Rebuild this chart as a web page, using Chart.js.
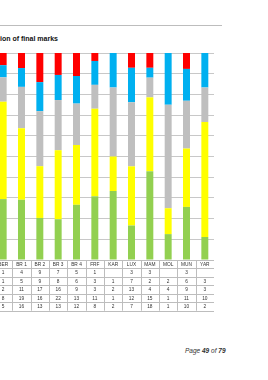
<!DOCTYPE html>
<html>
<head>
<meta charset="utf-8">
<script src="https://cdn.jsdelivr.net/npm/chart.js@4"></script>
<style>
html,body{margin:0;padding:0;background:#fff;width:268px;height:380px;overflow:hidden;position:relative;font-family:"Liberation Sans",Arial,sans-serif;}
#rule{position:absolute;left:0;top:25px;width:222px;height:0;border-top:1px solid #bdbdbd;}
#title{position:absolute;left:0;top:35px;font-size:7px;font-weight:bold;color:#111;white-space:nowrap;}
#wrap{position:absolute;left:-6px;top:50px;width:220px;height:264px;}
#footer{position:absolute;left:185px;top:347px;font-size:6.5px;font-style:italic;color:#333;white-space:nowrap;}
</style>
</head>
<body>
<div id="rule"></div>
<div id="title">ion of final marks</div>
<div id="wrap"><canvas id="c" width="220" height="264"></canvas></div>
<div id="footer">Page <b>49</b> of <b>79</b></div>
<script>
const categories = ['BER','BR 1','BR 2','BR 3','BR 4','FRF','KAR','LUX','MAM','MOL','MUN','YAR'];
const redMarks    = [1, 4, 9, 7, 5, 1, null, 3, 3, null, 3, null];
const blueMarks   = [1, 5, 9, 8, 6, 3, 1, 7, 2, 2, 6, 3];
const greyMarks   = [2, 11, 17, 16, 9, 3, 2, 13, 4, 4, 9, 3];
const yellowMarks = [8, 19, 16, 22, 13, 11, 1, 12, 15, 1, 11, 10];
const greenMarks  = [5, 16, 13, 13, 12, 8, 2, 7, 18, 1, 10, 2];
const yTicks = [0,10,20,30,40,50,60,70,80,90,100];

const series = [
  {data: redMarks, color: '#ff0000'},
  {data: blueMarks, color: '#00b0f0'},
  {data: greyMarks, color: '#bfbfbf'},
  {data: yellowMarks, color: '#ffff00'},
  {data: greenMarks, color: '#92d050'}
];
const totals = categories.map((_, i) => series.reduce((s, d) => s + (d.data[i] || 0), 0));
const datasets = series.slice().reverse().map(s => ({
  data: s.data.map((v, i) => (v || 0) / totals[i] * 100),
  backgroundColor: s.color,
  borderWidth: 0,
  barPercentage: 0.38,
  categoryPercentage: 1.0
}));

const tablePlugin = {
  id: 'dataTable',
  afterDraw(chart) {
    const ctx = chart.ctx, xs = chart.scales.x, area = chart.chartArea;
    const rowH = 8.45;
    const top = area.bottom;
    const n = categories.length;
    const step = (area.right - area.left) / n;
    ctx.save();
    ctx.strokeStyle = '#bdbdbd';
    ctx.lineWidth = 1;
    for (let r = 0; r <= series.length + 1; r++) {
      const y = Math.round(top + r * rowH) + 0.5;
      ctx.beginPath(); ctx.moveTo(area.left, y); ctx.lineTo(area.right, y); ctx.stroke();
    }
    for (let k = 0; k <= n; k++) {
      const x = Math.round(area.left + k * step) + 0.5;
      ctx.beginPath(); ctx.moveTo(x, top); ctx.lineTo(x, top + (series.length + 1) * rowH); ctx.stroke();
    }
    ctx.fillStyle = '#333';
    ctx.font = '4.8px "Liberation Sans", Arial, sans-serif';
    ctx.textAlign = 'center';
    ctx.textBaseline = 'middle';
    categories.forEach((c, i) => {
      const cx = xs.getPixelForValue(i);
      ctx.fillText(c, cx, top + rowH / 2 + 0.5);
      series.forEach((s, r) => {
        const v = s.data[i];
        if (v !== null && v !== undefined) ctx.fillText(String(v), cx, top + (r + 1.5) * rowH + 0.5);
      });
    });
    ctx.restore();
  }
};

new Chart(document.getElementById('c'), {
  type: 'bar',
  data: {labels: categories, datasets},
  options: {
    responsive: false,
    animation: false,
    devicePixelRatio: 1,
    layout: {padding: {top: 3, bottom: 54, left: 0, right: 0}},
    plugins: {legend: {display: false}, tooltip: {enabled: false}, title: {display: false}},
    scales: {
      x: {
        stacked: true,
        ticks: {display: false},
        grid: {display: false, drawTicks: false},
        border: {display: false}
      },
      y: {
        stacked: true,
        min: 0, max: 100,
        afterBuildTicks(axis) { axis.ticks = yTicks.map(v => ({value: v})); },
        ticks: {display: false},
        grid: {color: '#c8c8c8', lineWidth: 1, drawTicks: false},
        border: {display: false}
      }
    }
  },
  plugins: [tablePlugin]
});
</script>
</body>
</html>
